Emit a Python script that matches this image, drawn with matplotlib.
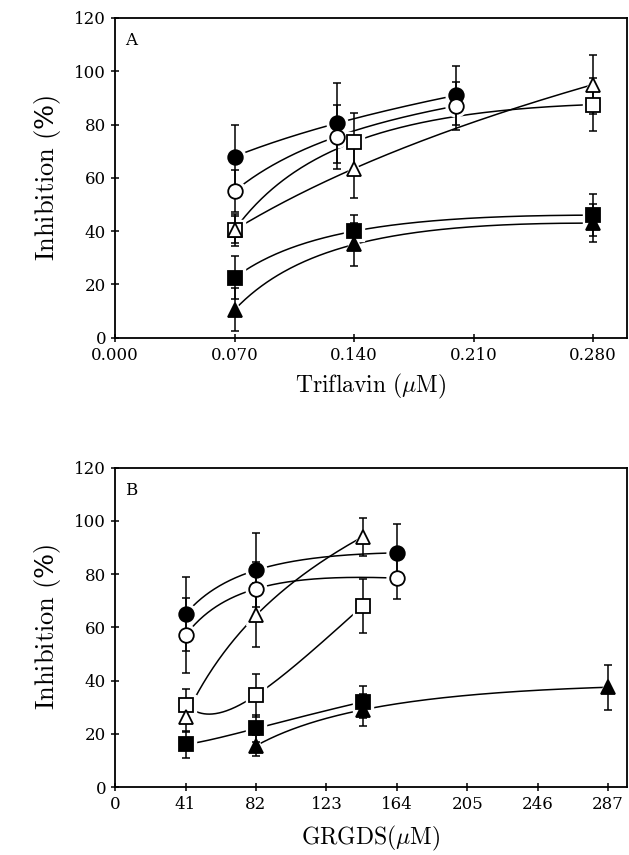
import numpy as np
import matplotlib
matplotlib.use("Agg")
import matplotlib.pyplot as plt

plt.rcParams["font.family"] = "DejaVu Serif"
plt.rcParams["mathtext.fontset"] = "cm"

# panel A: triflavin (uM)
a_fc_x = [0.07, 0.13, 0.20]; a_fc_y = [68, 80.5, 91]; a_fc_e = [12, 15, 11]
a_oc_x = [0.07, 0.13, 0.20]; a_oc_y = [55, 75.5, 87]; a_oc_e = [8, 12, 9]
a_os_x = [0.07, 0.14, 0.28]; a_os_y = [40.5, 73.5, 87.5]; a_os_e = [5, 11, 10]
a_ot_x = [0.07, 0.14, 0.28]; a_ot_y = [40.5, 63.5, 95]; a_ot_e = [6, 11, 11]
a_fs_x = [0.07, 0.14, 0.28]; a_fs_y = [22.5, 40, 46]; a_fs_e = [8, 6, 8]
a_ft_x = [0.07, 0.14, 0.28]; a_ft_y = [10.5, 35, 43]; a_ft_e = [8, 8, 7]

# panel B: GRGDS (uM)
b_fc_x = [41, 82, 164]; b_fc_y = [65, 81.5, 88]; b_fc_e = [14, 14, 11]
b_oc_x = [41, 82, 164]; b_oc_y = [57, 74.5, 78.5]; b_oc_e = [14, 10, 8]
b_ot_x = [41, 82, 144]; b_ot_y = [26.5, 64.5, 94]; b_ot_e = [6, 12, 7]
b_os_x = [41, 82, 144]; b_os_y = [31, 34.5, 68]; b_os_e = [6, 8, 10]
b_fs_x = [41, 82, 144]; b_fs_y = [16, 22, 32]; b_fs_e = [5, 5, 6]
b_ft_x = [82, 144, 287]; b_ft_y = [15.5, 29, 37.5]; b_ft_e = [4, 6, 8.5]

a_ticks = [0.0, 0.07, 0.14, 0.21, 0.28]
a_ticklabels = ["0.000", "0.070", "0.140", "0.210", "0.280"]
b_ticks = [0, 41, 82, 123, 164, 205, 246, 287]
y_ticks = [0, 20, 40, 60, 80, 100, 120]

styles = {
    "fc": dict(marker="o", mfc="black"),
    "oc": dict(marker="o", mfc="white"),
    "os": dict(marker="s", mfc="white"),
    "ot": dict(marker="^", mfc="white"),
    "fs": dict(marker="s", mfc="black"),
    "ft": dict(marker="^", mfc="black"),
}


def draw_series(ax, x, y, e, key):
    x = np.array(x, float); y = np.array(y, float)
    lx = np.log(x)
    coef = np.polyfit(lx, y, 2)
    xs = np.linspace(x[0], x[-1], 200)
    ax.plot(xs, np.polyval(coef, np.log(xs)), color="black", lw=1.1, zorder=2)
    st = styles[key]
    # white halo gives the little gap between curve and marker
    ax.plot(x, y, ls="none", marker=st["marker"], ms=15, mfc="white", mec="white", zorder=3)
    ax.errorbar(x, y, yerr=e, fmt="none", ecolor="black", elinewidth=1.1, capsize=3, capthick=1.1, zorder=4)
    ax.plot(x, y, ls="none", marker=st["marker"], ms=10.5, mfc=st["mfc"], mec="black", mew=1.3, zorder=5)


fig = plt.figure(figsize=(6.29, 8.55), dpi=100)
ax1 = fig.add_axes([0.183, 0.605, 0.814, 0.374])
ax2 = fig.add_axes([0.183, 0.0795, 0.814, 0.3735])

for key in ["fc", "oc", "os", "ot", "fs", "ft"]:
    draw_series(ax1, globals()["a_%s_x" % key], globals()["a_%s_y" % key], globals()["a_%s_e" % key], key)
    draw_series(ax2, globals()["b_%s_x" % key], globals()["b_%s_y" % key], globals()["b_%s_e" % key], key)

ax1.set_xlim(0, 0.30)
ax1.set_xticks(a_ticks)
ax1.set_xticklabels(a_ticklabels)
ax2.set_xlim(0, 298)
ax2.set_xticks(b_ticks)

for ax, lab in [(ax1, "A"), (ax2, "B")]:
    ax.set_ylim(0, 120)
    ax.set_yticks(y_ticks)
    ax.tick_params(direction="inout", length=6, width=1.1, labelsize=12)
    for sp in ax.spines.values():
        sp.set_linewidth(1.3)
    ax.text(0.02, 0.955, lab, transform=ax.transAxes, fontsize=12, va="top", ha="left")
    ax.set_ylabel(r"$\mathrm{Inhibition\ (}$%$\mathrm{)}$", fontsize=19, labelpad=8)

ax1.set_xlabel(r"$\mathrm{Triflavin}\ (\mu\mathrm{M})$", fontsize=17, labelpad=6)
ax2.set_xlabel(r"$\mathrm{GRGDS}(\mu\mathrm{M})$", fontsize=17, labelpad=8)

fig.savefig("out.png", dpi=100)
